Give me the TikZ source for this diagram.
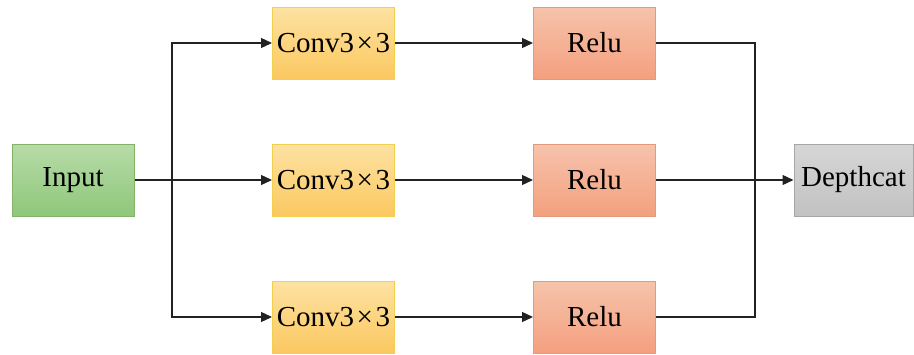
\documentclass[tikz,border=0pt]{standalone}
\usepackage{fontspec}
\setmainfont{Liberation Serif}
\usetikzlibrary{arrows.meta}
\definecolor{inTop}{HTML}{B7DBA8}
\definecolor{inBot}{HTML}{8FC77A}
\definecolor{inLine}{HTML}{82B366}
\definecolor{cvTop}{HTML}{FDE2A2}
\definecolor{cvBot}{HTML}{FBC860}
\definecolor{cvLine}{HTML}{F2CF4E}
\definecolor{reTop}{HTML}{F6C3AC}
\definecolor{reBot}{HTML}{F4A07E}
\definecolor{reLine}{HTML}{E39A7C}
\definecolor{dcTop}{HTML}{D6D6D6}
\definecolor{dcBot}{HTML}{C2C2C2}
\definecolor{dcLine}{HTML}{A6A6A6}
\definecolor{wire}{HTML}{222222}
\newcommand{\convlabel}{Conv3\hspace{2.5pt}×\hspace{2.5pt}3}
\tikzset{
  blockbox/.style={minimum width=122pt, minimum height=72pt, inner sep=0pt,
    line width=1pt, font=\fontsize{29}{34}\selectfont},
  inbox/.style={blockbox, draw=inLine, top color=inTop, bottom color=inBot},
  convbox/.style={blockbox, draw=cvLine, top color=cvTop, bottom color=cvBot},
  relubox/.style={blockbox, draw=reLine, top color=reTop, bottom color=reBot},
  catbox/.style={blockbox, minimum width=119pt, draw=dcLine, top color=dcTop, bottom color=dcBot},
  wireline/.style={draw=wire, line width=1.3pt},
  arrowline/.style={wireline, -{Triangle[length=11pt,width=10pt]}}
}
\begin{document}
\begin{tikzpicture}[x=1pt,y=-1pt]
\useasboundingbox (0,0) rectangle (914,354);
% blocks
\node[inbox] (in) at (73,180) {Input};
\node[convbox] (c1) at (333.5,43) {\convlabel};
\node[convbox] (c2) at (333.5,180) {\convlabel};
\node[convbox] (c3) at (333.5,317) {\convlabel};
\node[relubox] (r1) at (594.5,43) {Relu};
\node[relubox] (r2) at (594.5,180) {Relu};
\node[relubox] (r3) at (594.5,317) {Relu};
\node[catbox] (dc) at (853.5,180) {Depthcat};
% branch and merge points
\coordinate (split) at (172,180);
\coordinate (merge) at (755,180);
% fan-out
\draw[arrowline] (in.east) -- (c2.west);
\draw[arrowline] (split) |- (c1.west);
\draw[arrowline] (split) |- (c3.west);
% conv to relu
\draw[arrowline] (c1.east) -- (r1.west);
\draw[arrowline] (c2.east) -- (r2.west);
\draw[arrowline] (c3.east) -- (r3.west);
% fan-in
\draw[wireline] (r1.east) -| (merge);
\draw[wireline] (r3.east) -| (merge);
\draw[arrowline] (r2.east) -- (dc.west);
\end{tikzpicture}
\end{document}
